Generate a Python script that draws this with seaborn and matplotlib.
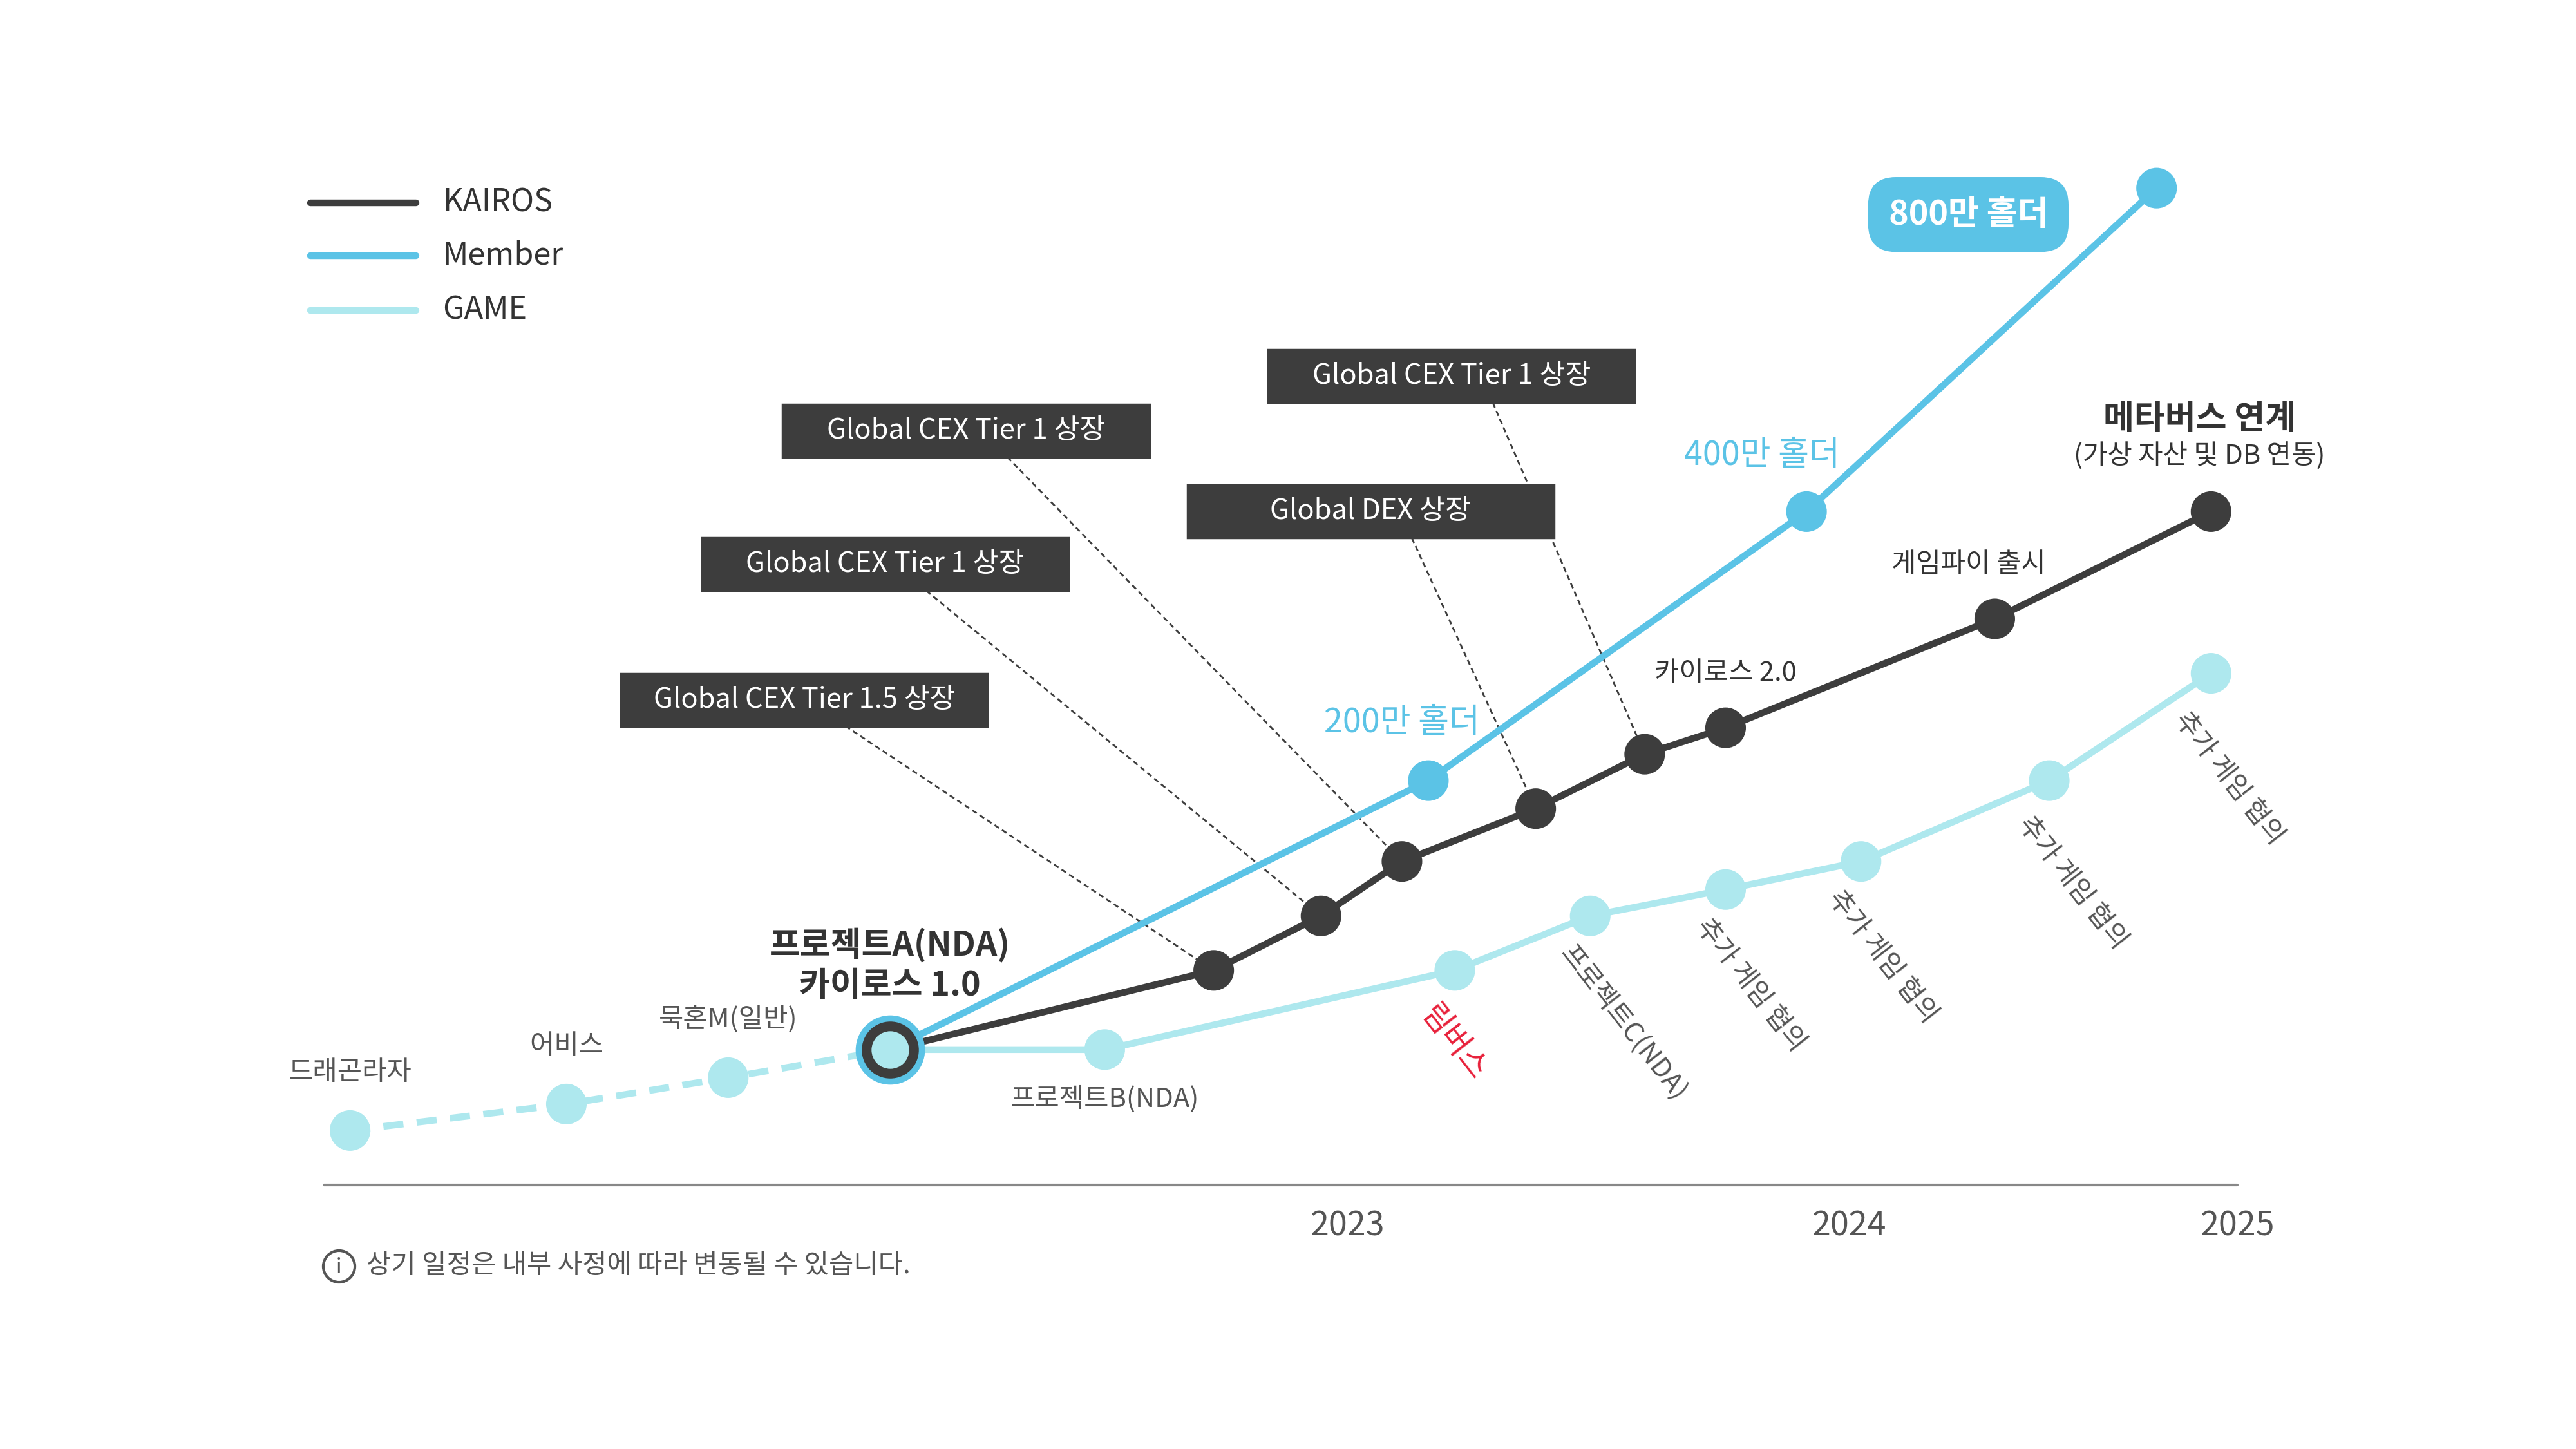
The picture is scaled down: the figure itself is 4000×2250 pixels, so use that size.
import matplotlib
matplotlib.use('Agg')
import matplotlib.pyplot as plt
from matplotlib.patches import FancyBboxPatch
import seaborn as sns
import pandas as pd

sns.set_theme(style='white')
plt.rcParams['font.family'] = ['Noto Sans CJK KR', 'DejaVu Sans']

DARK = '#3d3d3d'
BLUE = '#5bc3e6'
CYAN = '#aee8ee'
GREY = '#555555'

# timeline positions (x) and progress level (y, smaller = higher)
game_pre_x = [212, 343, 441, 539]
game_pre_y = [685, 669, 653, 636]
game_x = [539, 669, 881, 963, 1045, 1127, 1241, 1339]
game_y = [636, 636, 588, 555, 539, 522, 473, 408]
member_x = [539, 865, 1094, 1306]
member_y = [636, 473, 310, 114]
kairos_x = [539, 735, 800, 849, 930, 996, 1045, 1208, 1339]
kairos_y = [636, 588, 555, 522, 490, 457, 441, 375, 310]

pre_labels = ['드래곤라자', '어비스', '묵혼M(일반)']
box_labels = ['Global CEX Tier 1.5 상장', 'Global CEX Tier 1 상장', 'Global CEX Tier 1 상장',
              'Global DEX 상장', 'Global CEX Tier 1 상장']
box_pos = [(487, 424), (536, 342), (585, 261), (830, 310), (879, 228)]
box_target = [1, 2, 3, 4, 5]  # index into kairos points
game_rot_labels = ['프로젝트C(NDA)', '추가 게임 협의', '추가 게임 협의', '추가 게임 협의', '추가 게임 협의']
years = ['2023', '2024', '2025']
year_x = [816, 1120, 1355]

fig = plt.figure(figsize=(16, 9), dpi=250)
ax = fig.add_axes([0, 0, 1, 1])
ax.set_xlim(0, 1560)
ax.set_ylim(878, 0)
ax.axis('off')

# dashed leader lines
for (bx, by), ti in zip(box_pos, box_target):
    ax.plot([bx + 25, kairos_x[ti]], [by + 16, kairos_y[ti]], ls=(0, (3, 2)), lw=0.8, color=DARK, zorder=1)

pre = pd.DataFrame({'x': game_pre_x, 'y': game_pre_y})
g = pd.DataFrame({'x': game_x, 'y': game_y})
m = pd.DataFrame({'x': member_x, 'y': member_y})
k = pd.DataFrame({'x': kairos_x, 'y': kairos_y})

sns.lineplot(data=pre, x='x', y='y', ax=ax, color=CYAN, lw=3, linestyle=(0, (3, 2)), sort=False, zorder=2)
sns.lineplot(data=g, x='x', y='y', ax=ax, color=CYAN, lw=3, sort=False, zorder=2)
sns.lineplot(data=m, x='x', y='y', ax=ax, color=BLUE, lw=3, sort=False, zorder=3)
sns.lineplot(data=k, x='x', y='y', ax=ax, color=DARK, lw=3, sort=False, zorder=4)
sns.scatterplot(data=pd.concat([pre, g]), x='x', y='y', ax=ax, color=CYAN, s=330, edgecolor='none', zorder=5)
sns.scatterplot(data=m, x='x', y='y', ax=ax, color=BLUE, s=330, edgecolor='none', zorder=6)
sns.scatterplot(data=k, x='x', y='y', ax=ax, color=DARK, s=330, edgecolor='none', zorder=7)
# start marker
ax.scatter([539], [636], s=900, color=BLUE, zorder=8)
ax.scatter([539], [636], s=600, color=DARK, zorder=9)
ax.scatter([539], [636], s=250, color=CYAN, zorder=10)
ax.set_xlim(0, 1560)
ax.set_ylim(878, 0)
ax.axis('off')

# axis
ax.plot([196, 1355], [718, 718], color='#888888', lw=1.2)
for yl, yx in zip(years, year_x):
    ax.text(yx, 743, yl, ha='center', va='center', fontsize=15, color=GREY)

# legend
for yy, c, name in zip([123, 155, 188], [DARK, BLUE, CYAN], ['KAIROS', 'Member', 'GAME']):
    ax.plot([188, 252], [yy, yy], color=c, lw=3)
    ax.text(268, yy, name, va='center', fontsize=14, color='#333333')

# pre-game labels
for lx, ly, lab in zip(game_pre_x[:3], game_pre_y[:3], pre_labels):
    ax.text(lx, ly - 35, lab, ha='center', fontsize=12, color=GREY, va='center')
ax.text(539, 585, '프로젝트A(NDA)\n카이로스 1.0', ha='center', va='center', fontsize=15,
        fontweight='bold', color='#333333', linespacing=1.2)
ax.text(669, 666, '프로젝트B(NDA)', ha='center', va='center', fontsize=12, color=GREY)
ax.text(880, 632, '림버스', ha='center', va='center', fontsize=14, color='#e8203a', rotation=-52)

rot_pts = [(983, 620), (1060, 597), (1140, 580), (1255, 535), (1350, 472)]
for (rx, ry), lab in zip(rot_pts, game_rot_labels):
    ax.text(rx, ry, lab, ha='center', va='center', fontsize=12, color=GREY, rotation=-52)

# boxes
for (bx, by), lab in zip(box_pos, box_labels):
    ax.add_patch(plt.Rectangle((bx - 111, by - 16), 222, 32, color=DARK, zorder=11))
    ax.text(bx, by, lab, ha='center', va='center', fontsize=12.5, color='white', zorder=12)

# member labels
ax.text(849, 438, '200만 홀더', ha='center', va='center', fontsize=15, color=BLUE)
ax.text(1067, 276, '400만 홀더', ha='center', va='center', fontsize=15, color=BLUE)
ax.add_patch(FancyBboxPatch((1132, 108), 120, 44, boxstyle='round,pad=0,rounding_size=16',
                            color=BLUE, zorder=11))
ax.text(1192, 130, '800만 홀더', ha='center', va='center', fontsize=15, color='white',
        fontweight='bold', zorder=12)

# kairos labels
ax.text(1045, 408, '카이로스 2.0', ha='center', va='center', fontsize=12, color='#333333')
ax.text(1192, 342, '게임파이 출시', ha='center', va='center', fontsize=12, color='#333333')
ax.text(1332, 254, '메타버스 연계', ha='center', va='center', fontsize=15, fontweight='bold', color='#333333')
ax.text(1332, 276, '(가상 자산 및 DB 연동)', ha='center', va='center', fontsize=12, color='#333333')

# footnote
ax.scatter([205], [767], s=200, facecolor='white', edgecolor=GREY, lw=1.2, zorder=5)
ax.text(205, 768, 'i', ha='center', va='center', fontsize=9, color=GREY, zorder=6)
ax.text(222, 767, '상기 일정은 내부 사정에 따라 변동될 수 있습니다.', va='center', fontsize=12, color=GREY)

fig.savefig('out.png', dpi=250, facecolor='white')
